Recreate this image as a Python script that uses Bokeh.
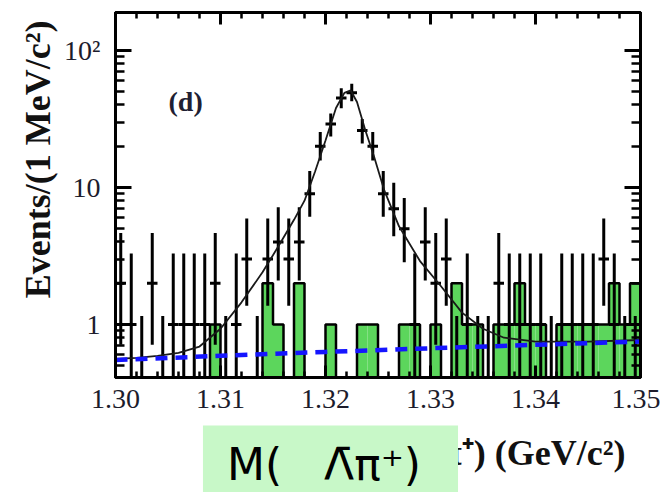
import numpy as np
from bokeh.plotting import figure
from bokeh.layouts import column
from bokeh.models import (FixedTicker, LinearAxis, LogAxis, Label, Title,
                          PrintfTickFormatter, Range1d)
from bokeh.embed import file_html
from bokeh.resources import INLINE

# ---------------- data ----------------
bin_start = 1.300      # GeV/c^2
bin_width = 0.001      # 1 MeV bins
n_bins = 50

# data counts per 1 MeV bin
counts = [2, 1, 0, 2, 0, 1, 1, 1, 1, 2,
          0, 1, 3, 0, 3, 4, 3, 4, 9, 20,
          29, 45, 49, 26, 20, 9, 7, 5, 1, 4,
          2, 3, 0, 1, 0, 0, 2, 1, 1, 1,
          1, 0, 1, 1, 1, 1, 3, 1, 0, 0]
# lower / upper ends of the error bars
err_lo = [0.71, 0.17, 0.0, 0.71, 0.0, 0.17, 0.17, 0.17, 0.17, 0.71,
          0.0, 0.17, 1.37, 0.0, 1.37, 2.09, 1.37, 2.09, 6.1, 15.7,
          23.5, 37.8, 42.5, 20.9, 15.7, 6.1, 4.4, 2.84, 0.17, 2.09,
          0.71, 1.37, 0.0, 0.17, 0.0, 0.0, 0.71, 0.17, 0.17, 0.17,
          0.17, 0.0, 0.17, 0.17, 0.17, 0.17, 1.37, 0.17, 0.0, 0.0]
err_hi = [4.64, 3.3, 1.15, 4.64, 1.15, 3.3, 3.3, 3.3, 3.3, 4.64,
          1.15, 3.3, 5.92, 1.15, 5.92, 7.16, 5.92, 7.16, 13.2, 25.4,
          34.6, 52.9, 57.0, 31.6, 25.4, 13.2, 10.8, 8.38, 3.3, 7.16,
          4.64, 5.92, 1.15, 3.3, 1.15, 1.15, 4.64, 3.3, 3.3, 3.3,
          3.3, 1.15, 3.3, 3.3, 3.3, 3.3, 5.92, 3.3, 1.15, 1.15]

# green histogram (per bin)
green_counts = [0, 0, 0, 0, 0, 0, 0, 0, 0, 1,
                0, 0, 0, 0, 2, 1, 0, 2, 0, 0,
                1, 0, 0, 1, 1, 0, 0, 1, 1, 0,
                1, 0, 2, 1, 1, 0, 1, 1, 2, 1,
                1, 0, 1, 1, 1, 1, 1, 2, 1, 2]

# fit curve (total)
fit_mass = [1.3000, 1.3020, 1.3040, 1.3060, 1.3080, 1.3100, 1.3120, 1.3140, 1.3155,
            1.3170, 1.3180, 1.3190, 1.3200, 1.3210, 1.3218, 1.3224, 1.3230, 1.3238,
            1.3246, 1.3256, 1.3270, 1.3290, 1.3310, 1.3330, 1.3350, 1.3370, 1.3400,
            1.3450, 1.3500]
fit_val = [0.56, 0.57, 0.59, 0.62, 0.69, 0.93, 1.45, 2.4, 3.7,
           5.8, 8.0, 13.0, 22.0, 38.0, 49.0, 51.0, 42.0, 26.0,
           17.0, 9.5, 5.2, 2.9, 1.9, 1.22, 0.93, 0.80, 0.75,
           0.75, 0.77]

# background (blue dashed)
bkg_mass = [1.300, 1.310, 1.320, 1.330, 1.340, 1.350]
bkg_val = [0.55, 0.59, 0.63, 0.67, 0.71, 0.75]

x_ticks = [1.30, 1.31, 1.32, 1.33, 1.34, 1.35]
y_ticks = [1, 10, 100]
y_tick_labels = {1: "1", 10: "10", 100: "10²"}

y_title = "Events/(1 MeV/c²)"
x_title = "M(Λ\u0304π⁺) (GeV/c²)"
overlay_text = "M(\u00a0\u00a0\u00a0Λ\u0304π⁺)"
panel_tag = "(d)"

# ---------------- derived ----------------
FLOOR = 0.05
edges = bin_start + bin_width * np.arange(n_bins + 1)
centers = edges[:-1] + bin_width / 2
counts_a = np.array(counts, dtype=float)
green_a = np.array(green_counts, dtype=float)

W = 660
H1 = 425
H2 = 67
FRAME_L = 115

p = figure(width=W, height=H1, y_axis_type="log",
           x_range=Range1d(1.30, 1.35), y_range=Range1d(0.41, 189),
           output_backend="svg", toolbar_location=None,
           min_border_left=FRAME_L, min_border_right=W - 640, min_border_top=12,
           min_border_bottom=H1 - 377)
p.background_fill_color = "white"
p.border_fill_color = "white"
p.outline_line_color = "black"
p.outline_line_width = 3
p.xgrid.visible = False
p.ygrid.visible = False

# green histogram
gm = green_a > 0
p.quad(left=edges[:-1][gm], right=edges[1:][gm], bottom=FLOOR, top=green_a[gm],
       fill_color="#5cd65c", line_color=None)
step_y = np.where(green_a > 0, green_a, FLOOR)
p.step(x=edges, y=np.append(step_y, step_y[-1]), mode="after",
       line_color="black", line_width=2.5)

# data error bars (vertical) and bin-width bars (horizontal)
lo = np.where(np.array(err_lo) > 0, err_lo, FLOOR)
p.segment(x0=centers, y0=lo, x1=centers, y1=err_hi, line_color="black", line_width=3)
dm = counts_a > 0
p.segment(x0=edges[:-1][dm], y0=counts_a[dm], x1=edges[1:][dm], y1=counts_a[dm],
          line_color="black", line_width=3)

# fit + background
p.line(fit_mass, fit_val, line_color="#1a1a1a", line_width=1.8)
p.line(bkg_mass, bkg_val, line_color="#1515ff", line_width=4.5, line_dash="12 8")

# axes
xt = FixedTicker(ticks=x_ticks,
                 minor_ticks=[round(1.30 + 0.002 * i, 3) for i in range(26)])
yt = FixedTicker(ticks=y_ticks,
                 minor_ticks=[0.5, 0.6, 0.7, 0.8, 0.9] + [k for k in range(2, 10)] +
                             [10 * k for k in range(2, 10)])

def style(ax, tin, min_in, labels=True):
    ax.axis_line_width = 3
    ax.axis_line_color = "black"
    ax.major_tick_line_width = 3
    ax.minor_tick_line_width = 2.5
    ax.major_tick_in = tin
    ax.major_tick_out = 0
    ax.minor_tick_in = min_in
    ax.minor_tick_out = 0
    if labels:
        ax.major_label_text_font = "Liberation Serif"
        ax.major_label_text_font_size = "28px"
        ax.major_label_text_color = "#1c1c2c"
    else:
        ax.major_label_text_font_size = "3px"
        ax.major_label_text_color = None
        ax.major_label_standoff = 0

xax = p.xaxis[0]
xax.ticker = xt
xax.formatter = PrintfTickFormatter(format="%.2f")
xax.major_label_standoff = 12
style(xax, 12, 6)

yax = p.yaxis[0]
yax.ticker = yt
yax.major_label_overrides = y_tick_labels
yax.major_label_standoff = 15
style(yax, 16, 9)

top = LinearAxis(ticker=xt)
style(top, 12, 6, labels=False)
p.add_layout(top, "above")
right = LogAxis(ticker=yt)
style(right, 16, 9, labels=False)
p.add_layout(right, "right")

# y title as a side-panel title (not clipped)
p.add_layout(Title(text=y_title, align="right", offset=8, vertical_align="middle",
                   text_font="Liberation Serif", text_font_style="bold",
                   text_font_size="36px", text_color="#111111", standoff=6), "left")

p.add_layout(Label(x=53, y=276, x_units="screen", y_units="screen",
                   text=panel_tag, text_align="left", text_baseline="alphabetic",
                   text_font="Liberation Serif", text_font_style="bold",
                   text_font_size="28px", text_color="#1f1f33"))

# lower strip: x title + overlay box (its frame is aligned with the main frame)
p2 = figure(width=W, height=H2, x_range=Range1d(0, 1), y_range=Range1d(0, 1),
            output_backend="svg", toolbar_location=None,
            x_axis_location=None, y_axis_location=None, min_border=0)
try:
    p2.title = None
except Exception:
    p2.title.visible = False
p2.outline_line_color = None
p2.grid.visible = False
p2.background_fill_color = "white"
p2.border_fill_color = "white"

BOTTOM = H1 + H2 + 10   # measured offset of the strip's frame bottom
p2.add_layout(Label(x=625 - FRAME_L, y=BOTTOM - 462, x_units="screen", y_units="screen",
                    text=x_title, text_align="right", text_baseline="alphabetic",
                    text_font="Liberation Serif", text_font_style="bold",
                    text_font_size="36px", text_color="#111111"))
p2.add_layout(Label(x=330 - FRAME_L, y=BOTTOM - 476, x_units="screen", y_units="screen",
                    text=overlay_text, text_align="center", text_baseline="alphabetic",
                    text_font="DejaVu Sans", text_font_size="44px", text_color="black",
                    background_fill_color="#c8f8c8", padding=(24, 37, 20, 25)))

layout = column(p, p2, spacing=0)
open("out.html", "w").write(file_html(layout, INLINE))
